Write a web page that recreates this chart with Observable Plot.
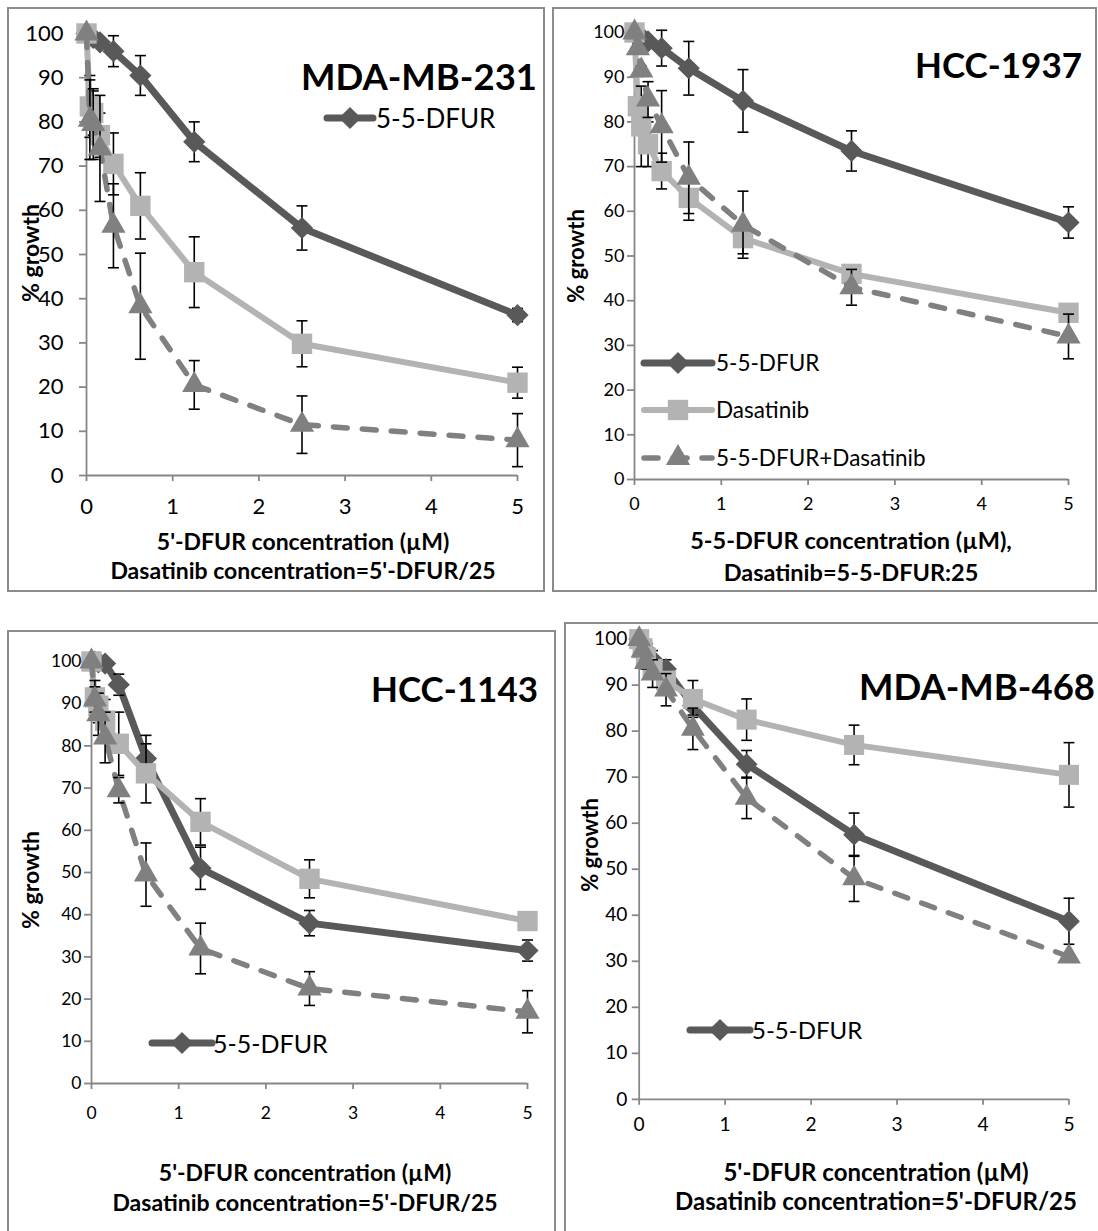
<!DOCTYPE html>
<html>
<head>
<meta charset="utf-8">
<script src="https://cdn.jsdelivr.net/npm/d3@7"></script>
<script src="https://cdn.jsdelivr.net/npm/@observablehq/plot@0.6"></script>
<style>
  html, body { margin: 0; padding: 0; background: #fff; }
  #root { position: relative; width: 1098px; height: 1231px; overflow: hidden; font-family: Lato, "Open Sans", sans-serif; color: #000; }
  .box { position: absolute; border: 2px solid #8c8c8c; box-sizing: border-box; }
  .t { position: absolute; white-space: nowrap; line-height: 1; }
  .plotwrap { position: absolute; }
</style>
</head>
<body>
<div id="root"></div>
<script>
// ---------- data ----------
const conc = [0, 0.039, 0.078, 0.156, 0.3125, 0.625, 1.25, 2.5, 5];
const xTicks = [0, 1, 2, 3, 4, 5];
const yTicks = [0, 10, 20, 30, 40, 50, 60, 70, 80, 90, 100];
const seriesNames = ["5-5-DFUR", "Dasatinib", "5-5-DFUR+Dasatinib"];

// MDA-MB-231
const mb231Dfur     = [100, 99.5, 99, 98, 96, 90.5, 75.5, 56, 36.3];
const mb231DfurErr  = [0, 0, 0, 1, 3.5, 4.5, 4.5, 5, 1.5];
const mb231Das      = [100, 83.5, 82, 77, 70.5, 61, 46, 29.8, 21];
const mb231DasErr   = [0, 7, 5, 5, 7, 7.5, 8, 5.2, 3.5];
const mb231Combo    = [100, 80.5, 79.5, 74, 56.5, 38.3, 20.5, 11.5, 8];
const mb231ComboErr = [0, 9, 8, 12, 9.5, 12, 5.5, 6.5, 6];

// HCC-1937
const hcc1937Dfur     = [100, 99.5, 99, 98, 96.5, 92, 84.7, 73.5, 57.5];
const hcc1937DfurErr  = [0, 0, 0, 1, 4, 6, 7, 4.5, 3.5];
const hcc1937Das      = [100, 83.5, 79, 75, 69, 63, 54, 46, 37.3];
const hcc1937DasErr   = [0, 0, 9, 5, 4, 5, 3.5, 0.5, 0.5];
const hcc1937Combo    = [100, 96.5, 91.5, 85, 79, 67.5, 57, 43, 32];
const hcc1937ComboErr = [0, 1, 1, 4, 8, 8, 7.5, 4, 5];

// HCC-1143
const hcc1143Dfur     = [100, 100, 99.8, 99.5, 94.5, 77, 51, 38, 31.5];
const hcc1143DfurErr  = [0, 0, 0, 0, 2.5, 5.5, 5, 3, 2.5];
const hcc1143Das      = [100, 91.5, 89.5, 86, 80.5, 73.5, 62, 48.5, 38.5];
const hcc1143DasErr   = [0, 4, 4, 5, 7.5, 7, 5.5, 4.5, 0.5];
const hcc1143Combo    = [100, 91, 87.5, 82, 69.5, 49.5, 32, 22.5, 17];
const hcc1143ComboErr = [0, 3, 5, 6, 3, 7.5, 6, 4, 5];

// MDA-MB-468
const mb468Dfur     = [100, 99, 97.5, 95.5, 93.5, 85.5, 72.8, 57.5, 38.7];
const mb468DfurErr  = [0, 0, 1, 2, 2, 2, 3, 4.7, 5];
const mb468Das      = [100, 98, 96, 93.5, 91, 87, 82.5, 77, 70.5];
const mb468DasErr   = [0, 1, 2, 2, 2, 4, 4.5, 4.3, 7];
const mb468Combo    = [100, 97.5, 95, 92.5, 89, 80.5, 65.5, 48, 31];
const mb468ComboErr = [0, 1, 1.5, 3, 3.5, 4.5, 4.5, 5, 0];

// ---------- styles ----------
const seriesStyle = [
  { color: "#595959", width: 7,   dash: null,    symbol: "diamond2", r: 10 },
  { color: "#b3b3b3", width: 6,   dash: null,    symbol: "square",   r: 11.5 },
  { color: "#808080", width: 5.5, dash: "14,15", symbol: "triangle", r: 9 }
];

const panels = [
  { title: "MDA-MB-231", box: [7, 7, 545, 592], frame: [86, 517, 33, 475], tickFont: 22, xPad: 17, yPad: 16,
    vals: [mb231Dfur, mb231Das, mb231Combo], errs: [mb231DfurErr, mb231DasErr, mb231ComboErr],
    titlePos: [537, 76], titleSize: 36.5,
    xlab: ["5'-DFUR concentration (µM)", "Dasatinib concentration=5'-DFUR/25"], xlabPos: [303, 541, 570], xlabSize: 23,
    ylabPos: [30, 253], ylabSize: 23,
    legend: { idx: [0], x1: 327, x2: 373, ys: [118], tx: 376, size: 26 } },
  { title: "HCC-1937", box: [552, 7, 1097, 592], frame: [634, 1068, 32, 479], tickFont: 18, xPad: 12, yPad: 3,
    vals: [hcc1937Dfur, hcc1937Das, hcc1937Combo], errs: [hcc1937DfurErr, hcc1937DasErr, hcc1937ComboErr],
    titlePos: [1082, 64], titleSize: 35,
    xlab: ["5-5-DFUR concentration (µM),", "Dasatinib=5-5-DFUR:25"], xlabPos: [851, 541, 573], xlabSize: 23.5,
    ylabPos: [576, 256], ylabSize: 22,
    legend: { idx: [0, 1, 2], x1: 644, x2: 712, ys: [363, 410, 458], tx: 716, size: 22.5 } },
  { title: "HCC-1143", box: [7, 630, 556, 1260], frame: [91, 527, 661, 1083], tickFont: 17.5, xPad: 17, yPad: 3,
    vals: [hcc1143Dfur, hcc1143Das, hcc1143Combo], errs: [hcc1143DfurErr, hcc1143DasErr, hcc1143ComboErr],
    titlePos: [538, 688], titleSize: 35,
    xlab: ["5'-DFUR concentration (µM)", "Dasatinib concentration=5'-DFUR/25"], xlabPos: [305, 1172, 1202], xlabSize: 23,
    ylabPos: [30, 880], ylabSize: 23,
    legend: { idx: [0], x1: 152, x2: 212, ys: [1043], tx: 213, size: 25 } },
  { title: "MDA-MB-468", box: [564, 622, 1110, 1260], frame: [640, 1077, 639, 1107], tickFont: 19.5, xPad: 12, yPad: 5,
    vals: [mb468Dfur, mb468Das, mb468Combo], errs: [mb468DfurErr, mb468DasErr, mb468ComboErr],
    titlePos: [1095, 686], titleSize: 36.5,
    xlab: ["5'-DFUR concentration (µM)", "Dasatinib concentration=5'-DFUR/25"], xlabPos: [876, 1172, 1201], xlabSize: 24,
    ylabPos: [590, 845], ylabSize: 22,
    legend: { idx: [0], x1: 690, x2: 750, ys: [1030], tx: 752, size: 24 } }
];

// error-bar cap as a custom symbol (horizontal stroke)
const capSymbol = { draw(ctx) { ctx.moveTo(-5.5, 0); ctx.lineTo(5.5, 0); } };

const root = document.getElementById("root");

function addText(str, x, y, { anchor = "start", size = 20, weight = 400, rotate = 0 } = {}) {
  const d = document.createElement("div");
  d.className = "t";
  d.textContent = str;
  d.style.left = x + "px";
  d.style.top = y + "px";
  d.style.fontSize = size + "px";
  d.style.fontWeight = weight;
  const tx = anchor === "end" ? "-100%" : anchor === "middle" ? "-50%" : "0";
  d.style.transform = rotate ? `translate(-50%, -50%) rotate(${rotate}deg)` : `translate(${tx}, -50%)`;
  root.appendChild(d);
  return d;
}

function legendSwatch(i, x1, x2, y) {
  const s = seriesStyle[i];
  const ns = "http://www.w3.org/2000/svg";
  const svg = document.createElementNS(ns, "svg");
  const pad = 14;
  svg.setAttribute("width", x2 - x1 + 2 * pad);
  svg.setAttribute("height", 2 * pad + 4);
  svg.style.position = "absolute";
  svg.style.left = (x1 - pad) + "px";
  svg.style.top = (y - pad - 2) + "px";
  svg.style.overflow = "visible";
  const cy = pad + 2;
  const line = document.createElementNS(ns, "line");
  line.setAttribute("x1", pad); line.setAttribute("x2", pad + x2 - x1);
  line.setAttribute("y1", cy); line.setAttribute("y2", cy);
  line.setAttribute("stroke", s.color); line.setAttribute("stroke-width", s.width);
  line.setAttribute("stroke-linecap", "round");
  if (s.dash) line.setAttribute("stroke-dasharray", s.dash);
  svg.appendChild(line);
  const symMap = { diamond2: d3.symbolDiamond2, square: d3.symbolSquare, triangle: d3.symbolTriangle };
  const p = document.createElementNS(ns, "path");
  p.setAttribute("d", d3.symbol(symMap[s.symbol], s.r * s.r * Math.PI)());
  p.setAttribute("transform", `translate(${pad + (x2 - x1) / 2},${cy})`);
  p.setAttribute("fill", s.color);
  svg.appendChild(p);
  root.appendChild(svg);
}

for (const p of panels) {
  // border box
  const b = document.createElement("div");
  b.className = "box";
  b.style.left = p.box[0] + "px"; b.style.top = p.box[1] + "px";
  b.style.width = (p.box[2] - p.box[0]) + "px"; b.style.height = (p.box[3] - p.box[1]) + "px";
  root.appendChild(b);

  const [x0, x5, yTop, yBot] = p.frame;
  const mL = 80, mR = 30, mT = 25, mB = 50;
  const marks = [
    Plot.ruleY([0], { stroke: "#868686", strokeWidth: 1.8 }),
    Plot.ruleX([0], { stroke: "#868686", strokeWidth: 1.8 }),
    Plot.axisX({ ticks: xTicks, tickSize: 6, tickPadding: p.xPad, stroke: "#868686", strokeWidth: 1.8, fill: "#000", fontSize: p.tickFont, label: null, tickFormat: d3.format("d") }),
    Plot.axisY({ ticks: yTicks, tickSize: 7, tickPadding: p.yPad, stroke: "#868686", strokeWidth: 1.8, fill: "#000", fontSize: p.tickFont, label: null, tickFormat: d3.format("d") })
  ];
  p.vals.forEach((vals, si) => {
    const s = seriesStyle[si];
    const errs = p.errs[si];
    const rows = conc.map((x, i) => ({ x, y: vals[i], e: errs[i], lo: vals[i] - errs[i], hi: vals[i] + errs[i] }));
    const eb = rows.filter(d => d.e > 0);
    marks.push(Plot.line(rows, { x: "x", y: "y", stroke: s.color, strokeWidth: s.width, strokeDasharray: s.dash || undefined, strokeLinecap: "round", strokeLinejoin: "round" }));
    marks.push(Plot.ruleX(eb, { x: "x", y1: "lo", y2: "hi", stroke: "#000", strokeWidth: 1.6 }));
    marks.push(Plot.dot(eb, { x: "x", y: "hi", symbol: capSymbol, r: 5, fill: "none", stroke: "#000", strokeWidth: 1.6 }));
    marks.push(Plot.dot(eb, { x: "x", y: "lo", symbol: capSymbol, r: 5, fill: "none", stroke: "#000", strokeWidth: 1.6 }));
    marks.push(Plot.dot(rows, { x: "x", y: "y", symbol: s.symbol, r: s.r, fill: s.color, stroke: "none" }));
  });

  const chart = Plot.plot({
    width: mL + (x5 - x0) + mR,
    height: mT + (yBot - yTop) + mB,
    marginLeft: mL, marginRight: mR, marginTop: mT, marginBottom: mB,
    x: { domain: [0, 5] },
    y: { domain: [0, 100] },
    style: { fontFamily: "Lato, 'Open Sans', sans-serif", background: "transparent", overflow: "visible", color: "#000" },
    marks
  });
  const wrap = document.createElement("div");
  wrap.className = "plotwrap";
  wrap.style.left = (x0 - mL) + "px";
  wrap.style.top = (yTop - mT) + "px";
  wrap.appendChild(chart);
  root.appendChild(wrap);

  addText(p.title, p.titlePos[0], p.titlePos[1], { anchor: "end", size: p.titleSize, weight: 700 });
  addText(p.xlab[0], p.xlabPos[0], p.xlabPos[1], { anchor: "middle", size: p.xlabSize, weight: 700 });
  addText(p.xlab[1], p.xlabPos[0], p.xlabPos[2], { anchor: "middle", size: p.xlabSize, weight: 700 });
  addText("% growth", p.ylabPos[0], p.ylabPos[1], { size: p.ylabSize, weight: 700, rotate: -90 });
  const L = p.legend;
  L.idx.forEach((si, k) => {
    legendSwatch(si, L.x1, L.x2, L.ys[k]);
    addText(seriesNames[si], L.tx, L.ys[k], { anchor: "start", size: L.size, weight: 400 });
  });
}
</script>
</body>
</html>
